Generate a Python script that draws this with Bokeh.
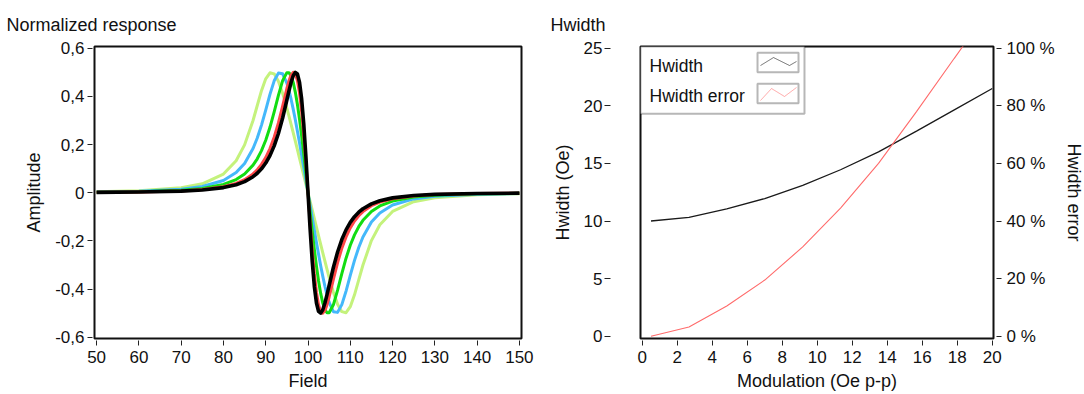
from bokeh.plotting import figure
from bokeh.models import (Range1d, LinearAxis, FixedTicker, CustomJSTickFormatter,
                          BoxAnnotation, PolyAnnotation, Label)
from bokeh.layouts import row
from bokeh.embed import file_html
from bokeh.resources import INLINE

FONT = "Liberation Sans"
FS = "17px"
FS_LAB = "18px"

# ---------------- data: left panel (normalized response) ----------------
field = [50, 60, 70, 75, 80, 83, 85, 87, 88, 89, 90, 91, 92, 93, 94, 95, 95.5, 96, 96.5,
         97, 97.5, 98, 98.5, 99, 99.5, 100, 100.5, 101, 101.5, 102, 102.5, 103, 103.5,
         104, 104.5, 105, 106, 107, 108, 109, 110, 111, 112, 113, 115, 117, 120, 125,
         130, 140, 150]

resp_black = [0.0015, 0.0029, 0.0067, 0.0114, 0.0213, 0.0332, 0.0462, 0.0665, 0.0809, 0.0993,
              0.1232, 0.1541, 0.1944, 0.2460, 0.3103, 0.3849, 0.4230, 0.4579, 0.4854, 0.4994,
              0.4927, 0.4577, 0.3888, 0.2847, 0.1509, 0.0,
              -0.1509, -0.2847, -0.3888, -0.4577, -0.4927, -0.4994, -0.4854, -0.4579, -0.4230,
              -0.3849, -0.3103, -0.2460, -0.1944, -0.1541, -0.1232, -0.0993, -0.0809, -0.0665,
              -0.0462, -0.0332, -0.0213, -0.0114, -0.0067, -0.0029, -0.0015]

resp_red = [0.0017, 0.0033, 0.0077, 0.0131, 0.0247, 0.0386, 0.0540, 0.0782, 0.0955, 0.1176,
            0.1462, 0.1832, 0.2306, 0.2899, 0.3599, 0.4327, 0.4646, 0.4885, 0.4999, 0.4938,
            0.4659, 0.4137, 0.3370, 0.2384, 0.1236, 0.0,
            -0.1236, -0.2384, -0.3370, -0.4137, -0.4659, -0.4938, -0.4999, -0.4885, -0.4646,
            -0.4327, -0.3599, -0.2899, -0.2306, -0.1832, -0.1462, -0.1176, -0.0955, -0.0782,
            -0.0540, -0.0386, -0.0247, -0.0131, -0.0077, -0.0033, -0.0017]

resp_green = [0.0023, 0.0044, 0.0104, 0.0179, 0.0344, 0.0548, 0.0778, 0.1145, 0.1409, 0.1747,
              0.2178, 0.2716, 0.3355, 0.4043, 0.4652, 0.4984, 0.4983, 0.4849, 0.4579, 0.4178,
              0.3661, 0.3044, 0.2349, 0.1597, 0.0808, 0.0,
              -0.0808, -0.1597, -0.2349, -0.3044, -0.3661, -0.4178, -0.4579, -0.4849, -0.4983,
              -0.4984, -0.4652, -0.4043, -0.3355, -0.2716, -0.2178, -0.1747, -0.1409, -0.1145,
              -0.0778, -0.0548, -0.0344, -0.0179, -0.0104, -0.0044, -0.0023]

resp_blue = [0.0031, 0.0061, 0.0147, 0.0257, 0.0510, 0.0837, 0.1218, 0.1835, 0.2271, 0.2807,
             0.3430, 0.4083, 0.4645, 0.4966, 0.4936, 0.4550, 0.4245, 0.3882, 0.3472, 0.3027,
             0.2555, 0.2063, 0.1558, 0.1043, 0.0523, 0.0,
             -0.0523, -0.1043, -0.1558, -0.2063, -0.2555, -0.3027, -0.3472, -0.3882, -0.4245,
             -0.4550, -0.4936, -0.4966, -0.4645, -0.4083, -0.3430, -0.2807, -0.2271, -0.1835,
             -0.1218, -0.0837, -0.0510, -0.0257, -0.0147, -0.0061, -0.0031]

resp_lime = [0.0042, 0.0083, 0.0206, 0.0371, 0.0775, 0.1330, 0.1987, 0.2998, 0.3620, 0.4238,
             0.4731, 0.4979, 0.4935, 0.4625, 0.4126, 0.3514, 0.3183, 0.2842, 0.2494, 0.2142,
             0.1786, 0.1430, 0.1073, 0.0715, 0.0358, 0.0,
             -0.0358, -0.0715, -0.1073, -0.1430, -0.1786, -0.2142, -0.2494, -0.2842, -0.3183,
             -0.3514, -0.4126, -0.4625, -0.4935, -0.4979, -0.4731, -0.4238, -0.3620, -0.2998,
             -0.1987, -0.1330, -0.0775, -0.0371, -0.0206, -0.0083, -0.0042]

left_xticks = [50, 60, 70, 80, 90, 100, 110, 120, 130, 140, 150]
left_yticks = [-0.6, -0.4, -0.2, 0, 0.2, 0.4, 0.6]

# ---------------- data: right panel (Hwidth) ----------------
modulation = [0.5, 2.67, 4.83, 7.0, 9.17, 11.33, 13.5, 15.67, 17.83, 20.0]
hwidth = [10.0, 10.32, 11.05, 11.95, 13.1, 14.45, 16.0, 17.8, 19.65, 21.5]
hwidth_error = [0.0, 3.2, 10.5, 19.5, 31.0, 44.5, 60.0, 78.0, 96.5, 115.0]

right_xticks = list(range(0, 21, 2))
right_yticks = [0, 5, 10, 15, 20, 25]
error_ticks = [0, 20, 40, 60, 80, 100]


def style_axis(ax, tin, tout, lab_standoff, ax_standoff):
    ax.axis_line_color = None
    ax.major_tick_in = tin
    ax.major_tick_out = tout
    ax.major_tick_line_color = "#222222"
    ax.major_tick_line_width = 1
    ax.minor_tick_line_color = None
    ax.major_label_text_font = FONT
    ax.major_label_text_font_size = FS
    ax.major_label_text_color = "#111111"
    ax.major_label_standoff = lab_standoff
    ax.axis_label_text_font = FONT
    ax.axis_label_text_font_size = FS_LAB
    ax.axis_label_text_font_style = "normal"
    ax.axis_label_text_color = "#111111"
    ax.axis_label_standoff = ax_standoff


def style_fig(p, title_offset):
    p.grid.visible = False
    p.outline_line_color = "#111111"
    p.outline_line_width = 2
    p.background_fill_color = "white"
    p.border_fill_color = "white"
    p.title.text_font = FONT
    p.title.text_font_size = "18px"
    p.title.text_font_style = "normal"
    p.title.text_color = "#111111"
    p.title.align = "left"
    p.title.offset = title_offset
    p.title.standoff = 23


# ---------------- left figure ----------------
p1 = figure(frame_width=427, frame_height=292, output_backend="svg", toolbar_location=None,
            x_range=Range1d(49.5, 150.5), y_range=Range1d(-0.605, 0.607),
            min_border_left=94, min_border_right=19, min_border_top=46, min_border_bottom=54,
            title="Normalized response", x_axis_label="Field", y_axis_label="Amplitude")
style_fig(p1, -88)
style_axis(p1.xaxis[0], -2, 7, 5, 5)
style_axis(p1.yaxis[0], -2, 7, 3, 8)
p1.xaxis[0].ticker = FixedTicker(ticks=left_xticks)
p1.yaxis[0].ticker = FixedTicker(ticks=left_yticks)
p1.yaxis[0].formatter = CustomJSTickFormatter(
    code="if (Math.abs(tick) < 1e-9) { return '0'; } return tick.toFixed(1).replace('.', ',');")

for ys, col, w in [(resp_lime, "#c4f27c", 3), (resp_blue, "#44b8fb", 3),
                   (resp_green, "#12dd12", 3), (resp_red, "#ff4646", 3),
                   (resp_black, "#000000", 3.6)]:
    p1.line(field, ys, line_color=col, line_width=w, line_join="round")

# ---------------- right figure ----------------
p2 = figure(frame_width=353, frame_height=292, output_backend="svg", toolbar_location=None,
            x_range=Range1d(-0.1, 20.07), y_range=Range1d(-0.2, 25.15),
            min_border_left=100, min_border_right=89, min_border_top=46, min_border_bottom=54,
            title="Hwidth", x_axis_label="Modulation (Oe p-p)", y_axis_label="Hwidth (Oe)")
style_fig(p2, -90)
style_axis(p2.xaxis[0], -2, 7, 5, 5)
style_axis(p2.yaxis[0], -30, 36, 2, 8)
p2.xaxis[0].ticker = FixedTicker(ticks=right_xticks)
p2.yaxis[0].ticker = FixedTicker(ticks=right_yticks)

p2.extra_y_ranges = {"err": Range1d(-0.8, 100.6)}
ax_r = LinearAxis(y_range_name="err", axis_label="Hwidth error")
style_axis(ax_r, -3, 8, 5, 6)
ax_r.ticker = FixedTicker(ticks=error_ticks)
ax_r.formatter = CustomJSTickFormatter(code="return tick.toFixed(0) + ' %';")
p2.add_layout(ax_r, "right")

p2.line(modulation, hwidth, line_color="#1a1a1a", line_width=1.3)
p2.line(modulation, hwidth_error, y_range_name="err", line_color="#ff6b6b", line_width=1.1)

# legend drawn as annotations (label left, sample box right)
p2.add_layout(BoxAnnotation(left=-0.1, right=9.27, top=25.15, bottom=19.31,
                            fill_color="white", fill_alpha=1.0,
                            line_color="#111111", line_width=2))
p2.add_layout(BoxAnnotation(left=6.586, right=8.929, top=24.60, bottom=22.92,
                            fill_color=None, fill_alpha=0, line_color="#111111", line_width=2))
p2.add_layout(BoxAnnotation(left=6.586, right=8.929, top=21.91, bottom=20.23,
                            fill_color=None, fill_alpha=0, line_color="#111111", line_width=2))
p2.add_layout(PolyAnnotation(xs=[6.757, 7.5, 8.414, 8.814, 8.414, 7.5],
                             ys=[23.50, 24.19, 23.50, 23.85, 23.50, 24.19],
                             fill_color=None, fill_alpha=0, line_color="#111111", line_width=1))
p2.add_layout(PolyAnnotation(xs=[6.757, 7.386, 8.129, 8.814, 8.129, 7.386],
                             ys=[20.46, 21.50, 20.81, 21.59, 20.81, 21.50],
                             fill_color=None, fill_alpha=0, line_color="#ff6b6b", line_width=1))
p2.add_layout(Label(x=0.414, y=23.50, text="Hwidth", text_baseline="middle",
                    text_font=FONT, text_font_size="17.5px", text_color="#111111"))
p2.add_layout(Label(x=0.414, y=20.81, text="Hwidth error", text_baseline="middle",
                    text_font=FONT, text_font_size="17.5px", text_color="#111111"))

layout = row(p1, p2)
open("out.html", "w").write(file_html(layout, INLINE))
